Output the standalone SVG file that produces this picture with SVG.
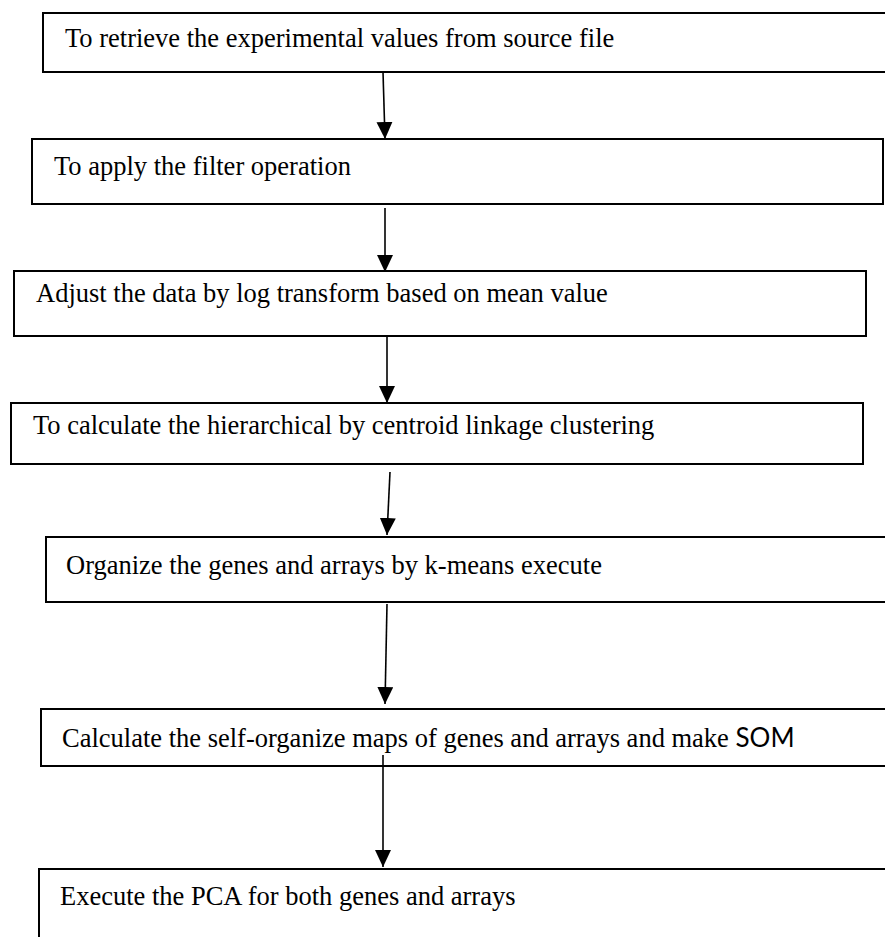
<svg xmlns="http://www.w3.org/2000/svg" width="885" height="937" viewBox="0 0 885 937">
<defs>
<marker id="ah" markerUnits="userSpaceOnUse" viewBox="0 0 17 16" refX="17" refY="8" markerWidth="17" markerHeight="16" orient="auto">
<path d="M0,0 L17,8 L0,16 z" fill="#000"/>
</marker>
<style>
.box{fill:#fff;stroke:#000;stroke-width:2}
.t{font-family:"Liberation Serif","Times New Roman",serif;font-size:26.5px;fill:#000}
.s{font-family:Lato,"Liberation Sans",sans-serif;font-size:26px}
.c{stroke:#000;stroke-width:1.6;fill:none;marker-end:url(#ah)}
</style>
</defs>
<rect width="885" height="937" fill="#fff"/>
<g id="connectors">
<line class="c" x1="383" y1="72" x2="385" y2="139"/>
<line class="c" x1="385" y1="208" x2="385" y2="272"/>
<line class="c" x1="387" y1="337" x2="387" y2="403"/>
<line class="c" x1="390" y1="472" x2="387" y2="535"/>
<line class="c" x1="387" y1="604" x2="385" y2="704"/>
</g>
<g id="n1"><rect class="box" x="43" y="13" width="860" height="59"/><text class="t" x="65" y="47">To retrieve the experimental values from source file</text></g>
<g id="n2"><rect class="box" x="32" y="139" width="851" height="65"/><text class="t" x="54" y="175">To apply the filter operation</text></g>
<g id="n3"><rect class="box" x="14" y="271" width="852" height="65"/><text class="t" x="36" y="302">Adjust the data by log transform based on mean value</text></g>
<g id="n4"><rect class="box" x="11" y="403" width="852" height="61"/><text class="t" x="33" y="434">To calculate the hierarchical by centroid linkage clustering</text></g>
<g id="n5"><rect class="box" x="46" y="537" width="860" height="65"/><text class="t" x="66" y="574">Organize the genes and arrays by k-means execute</text></g>
<g id="n6"><rect class="box" x="41" y="709" width="860" height="57"/><text class="t" x="62" y="747">Calculate the self-organize maps of genes and arrays and make <tspan class="s">SOM</tspan></text></g>
<g id="n7"><rect class="box" x="39" y="869" width="860" height="100"/><text class="t" x="60" y="905">Execute the PCA for both genes and arrays</text></g>
<g id="connectors2">
<line class="c" x1="383" y1="755" x2="383" y2="867"/>
</g>
</svg>
